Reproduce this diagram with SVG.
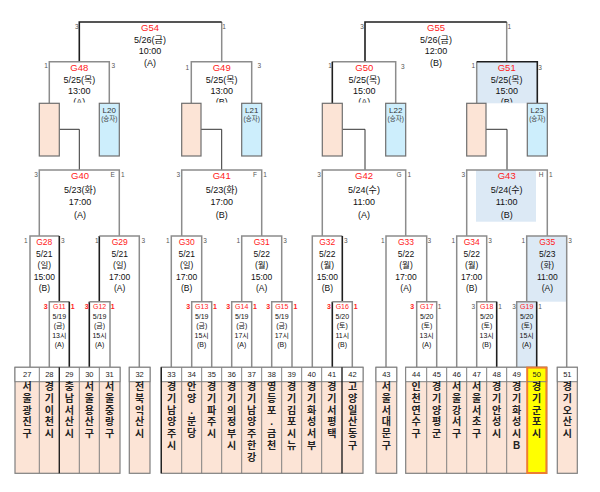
<svg xmlns="http://www.w3.org/2000/svg" width="600" height="492" viewBox="0 0 600 492">
<style>
text{font-family:"Liberation Sans","Noto Sans CJK KR",sans-serif;text-anchor:middle}
.ln{fill:none;stroke:#8c8c8c;stroke-width:1.5}
.lw{fill:none;stroke:#1e1e1e;stroke-width:1.6}
.lc{fill:none;stroke:#333;stroke-width:1}
.t9{font-size:9px;fill:#111}
.r9{font-size:9.5px;fill:#ff1a1a}
.t8{font-size:8.5px;fill:#111}
.r8{font-size:8.5px;fill:#ff1a1a}
.t7{font-size:7px;fill:#111}
.r7{font-size:7px;fill:#ff1a1a}
.lb{font-size:6.5px;fill:#555}
.lr{font-size:7px;fill:#ff1a1a;font-weight:bold}
.pe{fill:#fce4d6;stroke:#6e6e6e;stroke-width:1.2}
.lbx{fill:#cdeefc;stroke:#6e6e6e;stroke-width:1.2}
.lt{font-size:8px;fill:#333}
.ls{font-size:6.5px;fill:#444}
.bf{fill:#dce9f5}
.tb{fill:#fce4d6;stroke:#7f7f7f;stroke-width:1.2}
.th{fill:#fff;stroke:#7f7f7f;stroke-width:1}
.sep{stroke:#7f7f7f;stroke-width:1}
.sepd{stroke:#222;stroke-width:1.4}
.num{font-size:7.5px;fill:#222}
.nm{font-size:10px;font-weight:bold;fill:#222}
</style>
<defs>
<clipPath id="c1"><rect x="0" y="0" width="600" height="102.5"/></clipPath>
</defs>

<!-- fills -->
<g id="fills">
<rect class="bf" x="476.7" y="61.7" width="60.6" height="41.6"/>
<rect class="bf" x="476" y="170" width="60" height="51.7"/>
<rect class="bf" x="526.7" y="236" width="40" height="65.7"/>
<rect class="bf" x="516.7" y="301.7" width="20" height="65.3"/>
</g>

<g id="connectors">
<!-- final level -->
<polyline class="ln" points="221.7,61.7 221.7,22"/>
<polyline class="lw" points="79.3,61.7 79.3,22 221.7,22"/>
<polyline class="ln" points="506.7,61.7 506.7,22"/>
<polyline class="lw" points="365,61.7 365,22 506.7,22"/>
<!-- semis -->
<polyline class="ln" points="49.3,103.3 49.3,61.7 109.3,61.7 109.3,103.3"/>
<polyline class="ln" points="191.3,103.3 191.3,61.7 251.7,61.7 251.7,103.3"/>
<polyline class="ln" points="332.3,61.7 395.7,61.7 395.7,103.3"/>
<polyline class="lw" points="332.3,103.3 332.3,61.7"/>
<polyline class="ln" points="476.7,103.3 476.7,61.7"/>
<polyline class="lw" points="476.7,61.7 537.3,61.7 537.3,103.3"/>
<!-- peach to G4x -->
<polyline class="lc" points="59.3,129.3 79.3,129.3 79.3,170"/>
<polyline class="lc" points="201,129.3 221.7,129.3 221.7,170"/>
<polyline class="lc" points="342.3,129.3 365,129.3 365,170"/>
<polyline class="lc" points="486,129.3 507,129.3 507,170"/>
<!-- G40-G43 -->
<polyline class="ln" points="39.3,236 39.3,170 119.3,170 119.3,236"/>
<polyline class="ln" points="181.7,236 181.7,170 261.7,170 261.7,236"/>
<polyline class="ln" points="322.3,236 322.3,170 405.7,170 405.7,236"/>
<polyline class="ln" points="466.7,236 466.7,170 547.3,170 547.3,236"/>
<!-- G28-G35 -->
<polyline class="ln" points="30,367 30,236 59.3,236"/>
<polyline class="lw" points="59.3,236 59.3,301.7"/>
<polyline class="lw" points="99.3,301.7 99.3,236"/>
<polyline class="ln" points="99.3,236 139.3,236 139.3,367"/>
<polyline class="ln" points="171.3,367 171.3,236 201.7,236 201.7,301.7"/>
<polyline class="ln" points="241.7,301.7 241.7,236 281.7,236 281.7,301.7"/>
<polyline class="ln" points="312.3,367 312.3,236 342.3,236"/>
<polyline class="lw" points="342.3,236 342.3,301.7"/>
<polyline class="ln" points="386,367 386,236 426.7,236 426.7,301.7"/>
<polyline class="ln" points="456.7,367 456.7,236 486.7,236 486.7,301.7"/>
<polyline class="ln" points="526.7,301.7 526.7,236 566.7,236 566.7,367"/>
<!-- G11-G19 -->
<polyline class="ln" points="49.3,367 49.3,301.7 69.3,301.7"/>
<polyline class="lw" points="69.3,301.7 69.3,367"/>
<polyline class="lw" points="89.3,367 89.3,301.7"/>
<polyline class="ln" points="89.3,301.7 110,301.7 110,367"/>
<polyline class="ln" points="191.7,367 191.7,301.7 211.7,301.7 211.7,367"/>
<polyline class="ln" points="231.7,367 231.7,301.7 251.7,301.7 251.7,367"/>
<polyline class="ln" points="271.7,367 271.7,301.7 292,301.7 292,367"/>
<polyline class="lw" points="332.3,367 332.3,301.7"/>
<polyline class="ln" points="332.3,301.7 352.3,301.7 352.3,367"/>
<polyline class="ln" points="416.7,367 416.7,301.7 436.7,301.7 436.7,367"/>
<polyline class="ln" points="476.7,367 476.7,301.7 496.7,301.7"/>
<polyline class="lw" points="496.7,301.7 496.7,367"/>
<polyline class="ln" points="516.7,367 516.7,301.7 536.7,301.7"/>
<polyline class="lw" points="536.7,301.7 536.7,367"/>
</g>

<!-- placeholder boxes -->
<g id="P1"><rect class="pe" x="39.3" y="103.3" width="20" height="52.7"/></g>
<g id="P2"><rect class="pe" x="181.7" y="103.3" width="19.3" height="52.7"/></g>
<g id="P3"><rect class="pe" x="322.3" y="103.3" width="20" height="52.7"/></g>
<g id="P4"><rect class="pe" x="466.7" y="103.3" width="19.3" height="52.7"/></g>
<g id="L20"><rect class="lbx" x="99.3" y="103.3" width="20" height="52.7"/><text class="lt" x="109.3" y="112.8">L20</text><text class="ls" x="109.3" y="121.3">(승자)</text></g>
<g id="L21"><rect class="lbx" x="241.7" y="103.3" width="20" height="52.7"/><text class="lt" x="251.7" y="112.8">L21</text><text class="ls" x="251.7" y="121.3">(승자)</text></g>
<g id="L22"><rect class="lbx" x="385.7" y="103.3" width="20" height="52.7"/><text class="lt" x="395.7" y="112.8">L22</text><text class="ls" x="395.7" y="121.3">(승자)</text></g>
<g id="L23"><rect class="lbx" x="527.3" y="103.3" width="20" height="52.7"/><text class="lt" x="537.3" y="112.8">L23</text><text class="ls" x="537.3" y="121.3">(승자)</text></g>

<!-- finals -->
<g id="G54"><text class="r9" x="150" y="31">G54</text><text class="t9" x="150" y="42.5">5/26(금)</text><text class="t9" x="150" y="54.2">10:00</text><text class="t9" x="150" y="65.5">(A)</text>
<text class="lb" x="76.7" y="29">3</text><text class="lb" x="224" y="29">1</text></g>
<g id="G55"><text class="r9" x="436" y="31">G55</text><text class="t9" x="436" y="42.5">5/26(금)</text><text class="t9" x="436" y="54.2">12:00</text><text class="t9" x="436" y="65.5">(B)</text>
<text class="lb" x="362" y="29">3</text><text class="lb" x="509.3" y="29">1</text></g>

<g id="G48" clip-path="url(#c1)"><text class="r9" x="79.3" y="70.5">G48</text><text class="t9" x="79.3" y="82.5">5/25(목)</text><text class="t9" x="79.3" y="93.5">13:00</text><text class="t9" x="79.3" y="104.5">(A)</text>
<text class="lb" x="46" y="68">1</text><text class="lb" x="113.3" y="68">3</text></g>
<g id="G49" clip-path="url(#c1)"><text class="r9" x="221.7" y="70.5">G49</text><text class="t9" x="221.7" y="82.5">5/25(목)</text><text class="t9" x="221.7" y="93.5">13:00</text><text class="t9" x="221.7" y="104.5">(B)</text>
<text class="lb" x="187.3" y="69.5">1</text><text class="lb" x="259.3" y="68">3</text></g>
<g id="G50" clip-path="url(#c1)"><text class="r9" x="364.3" y="70.5">G50</text><text class="t9" x="364.3" y="82.5">5/25(목)</text><text class="t9" x="364.3" y="93.5">15:00</text><text class="t9" x="364.3" y="104.5">(A)</text>
<text class="lb" x="330" y="68">1</text><text class="lb" x="402.7" y="69">3</text></g>
<g id="G51" clip-path="url(#c1)"><text class="r9" x="506.7" y="70.5">G51</text><text class="t9" x="506.7" y="82.5">5/25(목)</text><text class="t9" x="506.7" y="93.5">15:00</text><text class="t9" x="506.7" y="104.5">(B)</text>
<text class="lb" x="473.3" y="68">1</text><text class="lb" x="540" y="69.5">3</text></g>

<!-- quarter -->
<g id="G40"><text class="r9" x="80" y="179.3">G40</text><text class="t9" x="80" y="192.6">5/23(화)</text><text class="t9" x="80" y="205.3">17:00</text><text class="t9" x="80" y="217.6">(A)</text>
<text class="lb" x="36" y="177">3</text><text class="lb" x="112.7" y="177">E</text><text class="lb" x="122.7" y="177">1</text></g>
<g id="G41"><text class="r9" x="221.7" y="179.3">G41</text><text class="t9" x="221.7" y="192.6">5/23(화)</text><text class="t9" x="221.7" y="205.3">17:00</text><text class="t9" x="221.7" y="217.6">(B)</text>
<text class="lb" x="178.3" y="177">3</text><text class="lb" x="255" y="177">F</text><text class="lb" x="265" y="177">1</text></g>
<g id="G42"><text class="r9" x="364" y="179.3">G42</text><text class="t9" x="364" y="192.6">5/24(수)</text><text class="t9" x="364" y="205.3">11:00</text><text class="t9" x="364" y="217.6">(A)</text>
<text class="lb" x="319" y="177">3</text><text class="lb" x="399" y="177">G</text><text class="lb" x="409.3" y="177">1</text></g>
<g id="G43"><text class="r9" x="506.7" y="179.3">G43</text><text class="t9" x="506.7" y="192.6">5/24(수)</text><text class="t9" x="506.7" y="205.3">11:00</text><text class="t9" x="506.7" y="217.6">(B)</text>
<text class="lb" x="463.3" y="177">3</text><text class="lb" x="541" y="177">H</text><text class="lb" x="550.7" y="177">1</text></g>

<!-- round of 16 -->
<g id="G28"><text class="r8" x="44.3" y="244.7">G28</text><text class="t8" x="44.3" y="256.7">5/21</text><text class="t8" x="44.3" y="268.3">(일)</text><text class="t8" x="44.3" y="279.7">15:00</text><text class="t8" x="44.3" y="291">(B)</text>
<text class="lb" x="25.7" y="242.6">1</text><text class="lb" x="62.7" y="242.6">3</text></g>
<g id="G29"><text class="r8" x="119.7" y="244.7">G29</text><text class="t8" x="119.7" y="256.7">5/21</text><text class="t8" x="119.7" y="268.3">(일)</text><text class="t8" x="119.7" y="279.7">17:00</text><text class="t8" x="119.7" y="291">(A)</text>
<text class="lb" x="96.7" y="242.6">1</text><text class="lb" x="143.3" y="242.6">3</text></g>
<g id="G30"><text class="r8" x="186.7" y="244.7">G30</text><text class="t8" x="186.7" y="256.7">5/21</text><text class="t8" x="186.7" y="268.3">(일)</text><text class="t8" x="186.7" y="279.7">17:00</text><text class="t8" x="186.7" y="291">(B)</text>
<text class="lb" x="167.7" y="242.6">1</text><text class="lb" x="205" y="242.6">3</text></g>
<g id="G31"><text class="r8" x="261.7" y="244.7">G31</text><text class="t8" x="261.7" y="256.7">5/22</text><text class="t8" x="261.7" y="268.3">(월)</text><text class="t8" x="261.7" y="279.7">15:00</text><text class="t8" x="261.7" y="291">(A)</text>
<text class="lb" x="238.3" y="242.6">1</text><text class="lb" x="285" y="242.6">3</text></g>
<g id="G32"><text class="r8" x="327.3" y="244.7">G32</text><text class="t8" x="327.3" y="256.7">5/22</text><text class="t8" x="327.3" y="268.3">(월)</text><text class="t8" x="327.3" y="279.7">15:00</text><text class="t8" x="327.3" y="291">(B)</text>
<text class="lb" x="345.7" y="242.6">3</text></g>
<g id="G33"><text class="r8" x="406" y="244.7">G33</text><text class="t8" x="406" y="256.7">5/22</text><text class="t8" x="406" y="268.3">(월)</text><text class="t8" x="406" y="279.7">17:00</text><text class="t8" x="406" y="291">(A)</text>
<text class="lb" x="382.7" y="242.6">1</text><text class="lb" x="429.3" y="242.6">3</text></g>
<g id="G34"><text class="r8" x="471.7" y="244.7">G34</text><text class="t8" x="471.7" y="256.7">5/22</text><text class="t8" x="471.7" y="268.3">(월)</text><text class="t8" x="471.7" y="279.7">17:00</text><text class="t8" x="471.7" y="291">(B)</text>
<text class="lb" x="453.3" y="242.6">1</text><text class="lb" x="490" y="242.6">3</text></g>
<g id="G35"><text class="r8" x="547.3" y="244.7">G35</text><text class="t8" x="547.3" y="256.7">5/23</text><text class="t8" x="547.3" y="268.3">(화)</text><text class="t8" x="547.3" y="279.7">11:00</text><text class="t8" x="547.3" y="291">(A)</text>
<text class="lb" x="523.3" y="242.6">1</text><text class="lb" x="570" y="242.6">3</text></g>

<!-- first round -->
<g id="G11"><text class="r7" x="59.3" y="309.2">G11</text><text class="t7" x="59.3" y="318.5">5/19</text><text class="t7" x="59.3" y="327.8">(금)</text><text class="t7" x="59.3" y="337.5">13시</text><text class="t7" x="59.3" y="346.5">(A)</text>
<text class="lr" x="45.7" y="309.2">3</text><text class="lr" x="72.7" y="309.2">1</text></g>
<g id="G12"><text class="r7" x="99.6" y="309.2">G12</text><text class="t7" x="99.6" y="318.5">5/19</text><text class="t7" x="99.6" y="327.8">(금)</text><text class="t7" x="99.6" y="337.5">15시</text><text class="t7" x="99.6" y="346.5">(A)</text>
<text class="lr" x="86.7" y="309.2">3</text><text class="lr" x="112.7" y="309.2">1</text></g>
<g id="G13"><text class="r7" x="201.7" y="309.2">G13</text><text class="t7" x="201.7" y="318.5">5/19</text><text class="t7" x="201.7" y="327.8">(금)</text><text class="t7" x="201.7" y="337.5">15시</text><text class="t7" x="201.7" y="346.5">(B)</text>
<text class="lr" x="188.3" y="309.2">3</text><text class="lr" x="215" y="309.2">1</text></g>
<g id="G14"><text class="r7" x="241.7" y="309.2">G14</text><text class="t7" x="241.7" y="318.5">5/19</text><text class="t7" x="241.7" y="327.8">(금)</text><text class="t7" x="241.7" y="337.5">17시</text><text class="t7" x="241.7" y="346.5">(A)</text>
<text class="lr" x="228.3" y="309.2">3</text><text class="lr" x="255" y="309.2">1</text></g>
<g id="G15"><text class="r7" x="281.8" y="309.2">G15</text><text class="t7" x="281.8" y="318.5">5/19</text><text class="t7" x="281.8" y="327.8">(금)</text><text class="t7" x="281.8" y="337.5">17시</text><text class="t7" x="281.8" y="346.5">(B)</text>
<text class="lr" x="268.3" y="309.2">3</text><text class="lr" x="295.5" y="309.2">1</text></g>
<g id="G16"><text class="r7" x="342.3" y="309.2">G16</text><text class="t7" x="342.3" y="318.5">5/20</text><text class="t7" x="342.3" y="327.8">(토)</text><text class="t7" x="342.3" y="337.5">11시</text><text class="t7" x="342.3" y="346.5">(B)</text>
<text class="lr" x="329" y="309.2">3</text><text class="lr" x="355.7" y="309.2">1</text></g>
<g id="G17"><text class="r7" x="426.7" y="309.2">G17</text><text class="t7" x="426.7" y="318.5">5/20</text><text class="t7" x="426.7" y="327.8">(토)</text><text class="t7" x="426.7" y="337.5">13시</text><text class="t7" x="426.7" y="346.5">(A)</text>
<text class="lr" x="412.3" y="309.2">3</text><text class="lb" x="439.5" y="309.2">1</text></g>
<g id="G18"><text class="r7" x="486.7" y="309.2">G18</text><text class="t7" x="486.7" y="318.5">5/20</text><text class="t7" x="486.7" y="327.8">(토)</text><text class="t7" x="486.7" y="337.5">13시</text><text class="t7" x="486.7" y="346.5">(B)</text>
<text class="lb" x="473.3" y="309.2">3</text><text class="lb" x="500" y="309.2">1</text></g>
<g id="G19"><text class="r7" x="526.7" y="309.2">G19</text><text class="t7" x="526.7" y="318.5">5/20</text><text class="t7" x="526.7" y="327.8">(토)</text><text class="t7" x="526.7" y="337.5">15시</text><text class="t7" x="526.7" y="346.5">(A)</text>
<text class="lb" x="514" y="309.2">3</text><text class="lb" x="540" y="309.2">1</text></g>

<!-- team boxes -->
<g id="teamframes">
<rect class="tb" x="15" y="367.3" width="105" height="106"/>
<rect class="th" x="15" y="367.3" width="105" height="14.4"/>
<line class="sep" x1="39.3" y1="367.3" x2="39.3" y2="473.3"/>
<line class="sepd" x1="59.3" y1="367.3" x2="59.3" y2="473.3"/>
<line class="sep" x1="79.3" y1="367.3" x2="79.3" y2="473.3"/>
<line class="sep" x1="99.3" y1="367.3" x2="99.3" y2="473.3"/>
<rect class="tb" x="129.3" y="367.3" width="20.7" height="106"/>
<rect class="th" x="129.3" y="367.3" width="20.7" height="14.4"/>
<rect class="tb" x="161.3" y="367.3" width="201.7" height="106"/>
<rect class="th" x="161.3" y="367.3" width="201.7" height="14.4"/>
<line class="sepd" x1="161.3" y1="367.3" x2="161.3" y2="473.3"/>
<line class="sep" x1="181.7" y1="367.3" x2="181.7" y2="473.3"/>
<line class="sep" x1="201.7" y1="367.3" x2="201.7" y2="473.3"/>
<line class="sep" x1="221.7" y1="367.3" x2="221.7" y2="473.3"/>
<line class="sep" x1="241.7" y1="367.3" x2="241.7" y2="473.3"/>
<line class="sep" x1="261.7" y1="367.3" x2="261.7" y2="473.3"/>
<line class="sep" x1="281.7" y1="367.3" x2="281.7" y2="473.3"/>
<line class="sep" x1="301.7" y1="367.3" x2="301.7" y2="473.3"/>
<line class="sep" x1="321.7" y1="367.3" x2="321.7" y2="473.3"/>
<line class="sepd" x1="342" y1="367.3" x2="342" y2="473.3"/>
<rect class="tb" x="376" y="367.3" width="20.7" height="106"/>
<rect class="th" x="376" y="367.3" width="20.7" height="14.4"/>
<rect class="tb" x="405.7" y="367.3" width="141" height="106"/>
<rect class="th" x="405.7" y="367.3" width="141" height="14.4"/>
<line class="sep" x1="426.7" y1="367.3" x2="426.7" y2="473.3"/>
<line class="sep" x1="446.7" y1="367.3" x2="446.7" y2="473.3"/>
<line class="sep" x1="466.7" y1="367.3" x2="466.7" y2="473.3"/>
<line class="sep" x1="486.7" y1="367.3" x2="486.7" y2="473.3"/>
<line class="sep" x1="506.7" y1="367.3" x2="506.7" y2="473.3"/>
<rect class="tb" x="557.3" y="367.3" width="20" height="106"/>
<rect class="th" x="557.3" y="367.3" width="20" height="14.4"/>
<line x1="15" y1="381.7" x2="577" y2="381.7" stroke="none"/>
</g>
<g id="T50"><rect x="527.2" y="367.6" width="19.2" height="105.4" fill="#ffff00" stroke="#ed7d31" stroke-width="2"/><line x1="527.2" y1="381.7" x2="546.4" y2="381.7" stroke="#7f7f7f" stroke-width="1"/></g>

<g id="teams">
<g id="T27"><text class="num" x="27.2" y="377">27</text><text class="nm"><tspan x="27.2" y="390.3">서</tspan><tspan x="27.2" y="402">울</tspan><tspan x="27.2" y="413.7">광</tspan><tspan x="27.2" y="425.4">진</tspan><tspan x="27.2" y="437.1">구</tspan></text></g>
<g id="T28"><text class="num" x="49.3" y="377">28</text><text class="nm"><tspan x="49.3" y="390.3">경</tspan><tspan x="49.3" y="402">기</tspan><tspan x="49.3" y="413.7">이</tspan><tspan x="49.3" y="425.4">천</tspan><tspan x="49.3" y="437.1">시</tspan></text></g>
<g id="T29"><text class="num" x="69.3" y="377">29</text><text class="nm"><tspan x="69.3" y="390.3">충</tspan><tspan x="69.3" y="402">남</tspan><tspan x="69.3" y="413.7">서</tspan><tspan x="69.3" y="425.4">산</tspan><tspan x="69.3" y="437.1">시</tspan></text></g>
<g id="T30"><text class="num" x="89.3" y="377">30</text><text class="nm"><tspan x="89.3" y="390.3">서</tspan><tspan x="89.3" y="402">울</tspan><tspan x="89.3" y="413.7">용</tspan><tspan x="89.3" y="425.4">산</tspan><tspan x="89.3" y="437.1">구</tspan></text></g>
<g id="T31"><text class="num" x="109.6" y="377">31</text><text class="nm"><tspan x="109.6" y="390.3">서</tspan><tspan x="109.6" y="402">울</tspan><tspan x="109.6" y="413.7">중</tspan><tspan x="109.6" y="425.4">랑</tspan><tspan x="109.6" y="437.1">구</tspan></text></g>
<g id="T32"><text class="num" x="139.6" y="377">32</text><text class="nm"><tspan x="139.6" y="390.3">전</tspan><tspan x="139.6" y="402">북</tspan><tspan x="139.6" y="413.7">익</tspan><tspan x="139.6" y="425.4">산</tspan><tspan x="139.6" y="437.1">시</tspan></text></g>
<g id="T33"><text class="num" x="171.5" y="377">33</text><text class="nm"><tspan x="171.5" y="390.3">경</tspan><tspan x="171.5" y="402">기</tspan><tspan x="171.5" y="413.7">남</tspan><tspan x="171.5" y="425.4">양</tspan><tspan x="171.5" y="437.1">주</tspan><tspan x="171.5" y="448.8">시</tspan></text></g>
<g id="T34"><text class="num" x="191.7" y="377">34</text><text class="nm"><tspan x="191.7" y="390.3">안</tspan><tspan x="191.7" y="402">양</tspan><tspan x="191.7" y="413.7">.</tspan><tspan x="191.7" y="425.4">분</tspan><tspan x="191.7" y="437.1">당</tspan></text></g>
<g id="T35"><text class="num" x="211.7" y="377">35</text><text class="nm"><tspan x="211.7" y="390.3">경</tspan><tspan x="211.7" y="402">기</tspan><tspan x="211.7" y="413.7">파</tspan><tspan x="211.7" y="425.4">주</tspan><tspan x="211.7" y="437.1">시</tspan></text></g>
<g id="T36"><text class="num" x="231.7" y="377">36</text><text class="nm"><tspan x="231.7" y="390.3">경</tspan><tspan x="231.7" y="402">기</tspan><tspan x="231.7" y="413.7">의</tspan><tspan x="231.7" y="425.4">정</tspan><tspan x="231.7" y="437.1">부</tspan><tspan x="231.7" y="448.8">시</tspan></text></g>
<g id="T37"><text class="num" x="251.7" y="377">37</text><text class="nm"><tspan x="251.7" y="390.3">경</tspan><tspan x="251.7" y="402">기</tspan><tspan x="251.7" y="413.7">남</tspan><tspan x="251.7" y="425.4">양</tspan><tspan x="251.7" y="437.1">주</tspan><tspan x="251.7" y="448.8">한</tspan><tspan x="251.7" y="460.5">강</tspan></text></g>
<g id="T38"><text class="num" x="271.7" y="377">38</text><text class="nm"><tspan x="271.7" y="390.3">영</tspan><tspan x="271.7" y="402">등</tspan><tspan x="271.7" y="413.7">포</tspan><tspan x="271.7" y="425.4">.</tspan><tspan x="271.7" y="437.1">금</tspan><tspan x="271.7" y="448.8">천</tspan></text></g>
<g id="T39"><text class="num" x="291.7" y="377">39</text><text class="nm"><tspan x="291.7" y="390.3">경</tspan><tspan x="291.7" y="402">기</tspan><tspan x="291.7" y="413.7">김</tspan><tspan x="291.7" y="425.4">포</tspan><tspan x="291.7" y="437.1">시</tspan><tspan x="291.7" y="448.8">뉴</tspan></text></g>
<g id="T40"><text class="num" x="311.7" y="377">40</text><text class="nm"><tspan x="311.7" y="390.3">경</tspan><tspan x="311.7" y="402">기</tspan><tspan x="311.7" y="413.7">화</tspan><tspan x="311.7" y="425.4">성</tspan><tspan x="311.7" y="437.1">서</tspan><tspan x="311.7" y="448.8">부</tspan></text></g>
<g id="T41"><text class="num" x="331.9" y="377">41</text><text class="nm"><tspan x="331.9" y="390.3">경</tspan><tspan x="331.9" y="402">기</tspan><tspan x="331.9" y="413.7">서</tspan><tspan x="331.9" y="425.4">평</tspan><tspan x="331.9" y="437.1">택</tspan></text></g>
<g id="T42"><text class="num" x="352.5" y="377">42</text><text class="nm"><tspan x="352.5" y="390.3">고</tspan><tspan x="352.5" y="402">양</tspan><tspan x="352.5" y="413.7">일</tspan><tspan x="352.5" y="425.4">산</tspan><tspan x="352.5" y="437.1">동</tspan><tspan x="352.5" y="448.8">구</tspan></text></g>
<g id="T43"><text class="num" x="386.3" y="377">43</text><text class="nm"><tspan x="386.3" y="390.3">서</tspan><tspan x="386.3" y="402">울</tspan><tspan x="386.3" y="413.7">서</tspan><tspan x="386.3" y="425.4">대</tspan><tspan x="386.3" y="437.1">문</tspan><tspan x="386.3" y="448.8">구</tspan></text></g>
<g id="T44"><text class="num" x="416.2" y="377">44</text><text class="nm"><tspan x="416.2" y="390.3">인</tspan><tspan x="416.2" y="402">천</tspan><tspan x="416.2" y="413.7">연</tspan><tspan x="416.2" y="425.4">수</tspan><tspan x="416.2" y="437.1">구</tspan></text></g>
<g id="T45"><text class="num" x="436.7" y="377">45</text><text class="nm"><tspan x="436.7" y="390.3">경</tspan><tspan x="436.7" y="402">기</tspan><tspan x="436.7" y="413.7">양</tspan><tspan x="436.7" y="425.4">평</tspan><tspan x="436.7" y="437.1">군</tspan></text></g>
<g id="T46"><text class="num" x="456.7" y="377">46</text><text class="nm"><tspan x="456.7" y="390.3">서</tspan><tspan x="456.7" y="402">울</tspan><tspan x="456.7" y="413.7">강</tspan><tspan x="456.7" y="425.4">서</tspan><tspan x="456.7" y="437.1">구</tspan></text></g>
<g id="T47"><text class="num" x="476.7" y="377">47</text><text class="nm"><tspan x="476.7" y="390.3">서</tspan><tspan x="476.7" y="402">울</tspan><tspan x="476.7" y="413.7">서</tspan><tspan x="476.7" y="425.4">초</tspan><tspan x="476.7" y="437.1">구</tspan></text></g>
<g id="T48"><text class="num" x="496.7" y="377">48</text><text class="nm"><tspan x="496.7" y="390.3">경</tspan><tspan x="496.7" y="402">기</tspan><tspan x="496.7" y="413.7">안</tspan><tspan x="496.7" y="425.4">성</tspan><tspan x="496.7" y="437.1">시</tspan></text></g>
<g id="T49"><text class="num" x="516.7" y="377">49</text><text class="nm"><tspan x="516.7" y="390.3">경</tspan><tspan x="516.7" y="402">기</tspan><tspan x="516.7" y="413.7">화</tspan><tspan x="516.7" y="425.4">성</tspan><tspan x="516.7" y="437.1">시</tspan><tspan x="516.7" y="448.8">B</tspan></text></g>
<g id="T50t"><text class="num" x="536.7" y="377">50</text><text class="nm"><tspan x="536.7" y="390.3">경</tspan><tspan x="536.7" y="402">기</tspan><tspan x="536.7" y="413.7">군</tspan><tspan x="536.7" y="425.4">포</tspan><tspan x="536.7" y="437.1">시</tspan></text></g>
<g id="T51"><text class="num" x="567.3" y="377">51</text><text class="nm"><tspan x="567.3" y="390.3">경</tspan><tspan x="567.3" y="402">기</tspan><tspan x="567.3" y="413.7">오</tspan><tspan x="567.3" y="425.4">산</tspan><tspan x="567.3" y="437.1">시</tspan></text></g>
</g>
</svg>
